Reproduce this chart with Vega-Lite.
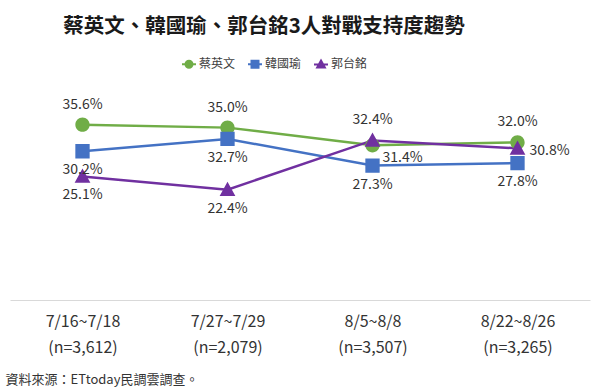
{
  "$schema": "https://vega.github.io/schema/vega-lite/v6.json",
  "width": 580,
  "height": 197,
  "autosize": {"type": "none"},
  "padding": {"left": 10, "top": 103, "right": 10, "bottom": 92},
  "background": "white",
  "config": {
    "font": "Noto Sans CJK TC",
    "view": {"stroke": null}
  },
  "title": {
    "text": "蔡英文、韓國瑜、郭台銘3人對戰支持度趨勢",
    "fontSize": 20.5,
    "fontWeight": "bold",
    "color": "#1a1a1a",
    "anchor": "middle",
    "frame": "group",
    "dx": -36,
    "offset": 19
  },
  "data": {
    "values": [
      {"period": "7/16~7/18|(n=3,612)", "candidate": "蔡英文", "support": 35.6},
      {"period": "7/27~7/29|(n=2,079)", "candidate": "蔡英文", "support": 35.0},
      {"period": "8/5~8/8|(n=3,507)", "candidate": "蔡英文", "support": 31.4},
      {"period": "8/22~8/26|(n=3,265)", "candidate": "蔡英文", "support": 32.0},
      {"period": "7/16~7/18|(n=3,612)", "candidate": "韓國瑜", "support": 30.2},
      {"period": "7/27~7/29|(n=2,079)", "candidate": "韓國瑜", "support": 32.7},
      {"period": "8/5~8/8|(n=3,507)", "candidate": "韓國瑜", "support": 27.3},
      {"period": "8/22~8/26|(n=3,265)", "candidate": "韓國瑜", "support": 27.8},
      {"period": "7/16~7/18|(n=3,612)", "candidate": "郭台銘", "support": 25.1},
      {"period": "7/27~7/29|(n=2,079)", "candidate": "郭台銘", "support": 22.4},
      {"period": "8/5~8/8|(n=3,507)", "candidate": "郭台銘", "support": 32.4},
      {"period": "8/22~8/26|(n=3,265)", "candidate": "郭台銘", "support": 30.8}
    ]
  },
  "transform": [{"calculate": "format(datum.support, '.1f') + '%'", "as": "label"}],
  "encoding": {
    "x": {
      "field": "period",
      "type": "nominal",
      "sort": null,
      "scale": {"padding": 0.5},
      "axis": {
        "labelAngle": 0,
        "labelExpr": "split(datum.value, '|')",
        "labelFontSize": 16,
        "labelColor": "#333333",
        "labelPadding": 21,
        "labelLineHeight": 26,
        "labelBaseline": "middle",
        "ticks": false,
        "grid": false,
        "domainColor": "#d9d9d9",
        "domainWidth": 1,
        "title": "資料來源：ETtoday民調雲調查。",
        "titleFontSize": 13,
        "titleFontWeight": "normal",
        "titleColor": "#333333",
        "titleAnchor": "start",
        "titleAlign": "left",
        "titleBaseline": "middle",
        "titleX": -5,
        "titleY": 79
      }
    },
    "y": {
      "field": "support",
      "type": "quantitative",
      "scale": {"domain": [0, 40], "zero": true, "nice": false},
      "axis": null
    },
    "color": {
      "field": "candidate",
      "type": "nominal",
      "sort": ["蔡英文", "韓國瑜", "郭台銘"],
      "scale": {"domain": ["蔡英文", "韓國瑜", "郭台銘"], "range": ["#70ad47", "#4472c4", "#7030a0"]},
      "legend": {
        "orient": "none",
        "direction": "horizontal",
        "legendX": 171,
        "legendY": -47,
        "title": null,
        "labelFontSize": 12,
        "labelColor": "#404040",
        "symbolSize": 196,
        "symbolOpacity": 1,
        "symbolStrokeWidth": 2,
        "columnPadding": 8,
        "labelOffset": 2,
        "encode": {
          "symbols": {
            "update": {
              "stroke": {"signal": "scale('color', datum.value)"},
              "strokeWidth": {"value": 2}
            }
          }
        }
      }
    }
  },
  "layer": [
    {
      "mark": {"type": "line", "strokeWidth": 2.5}
    },
    {
      "mark": {"type": "point", "filled": true, "opacity": 1, "size": 820},
      "encoding": {
        "shape": {
          "field": "candidate",
          "type": "nominal",
          "scale": {"domain": ["蔡英文", "韓國瑜", "郭台銘"], "range": ["M-1,0H1M-0.5,0A0.5,0.5,0,1,1,0.5,0A0.5,0.5,0,1,1,-0.5,0Z", "M-1,0H1M-0.5,-0.5H0.5V0.5H-0.5Z", "M-1,0H1M0,-0.55L0.55,0.45H-0.55Z"]},
          "legend": null
        }
      }
    },
    {
      "transform": [{"filter": "(datum.candidate === '蔡英文' && indexof(datum.period, '8/5') !== 0) || (datum.candidate === '郭台銘' && indexof(datum.period, '8/5') === 0)"}],
      "mark": {"type": "text", "dy": -20, "fontSize": 14},
      "encoding": {"text": {"field": "label"}, "color": {"value": "#333333"}}
    },
    {
      "transform": [{"filter": "datum.candidate === '韓國瑜' || (datum.candidate === '郭台銘' && (indexof(datum.period, '7/') === 0))"}],
      "mark": {"type": "text", "dy": 19, "fontSize": 14},
      "encoding": {"text": {"field": "label"}, "color": {"value": "#333333"}}
    },
    {
      "transform": [{"filter": "datum.candidate === '蔡英文' && indexof(datum.period, '8/5') === 0"}],
      "mark": {"type": "text", "dx": 10, "dy": 13, "align": "left", "fontSize": 14},
      "encoding": {"text": {"field": "label"}, "color": {"value": "#333333"}}
    },
    {
      "transform": [{"filter": "datum.candidate === '郭台銘' && indexof(datum.period, '8/22') === 0"}],
      "mark": {"type": "text", "dx": 12, "dy": 3, "align": "left", "fontSize": 14},
      "encoding": {"text": {"field": "label"}, "color": {"value": "#333333"}}
    }
  ]
}
